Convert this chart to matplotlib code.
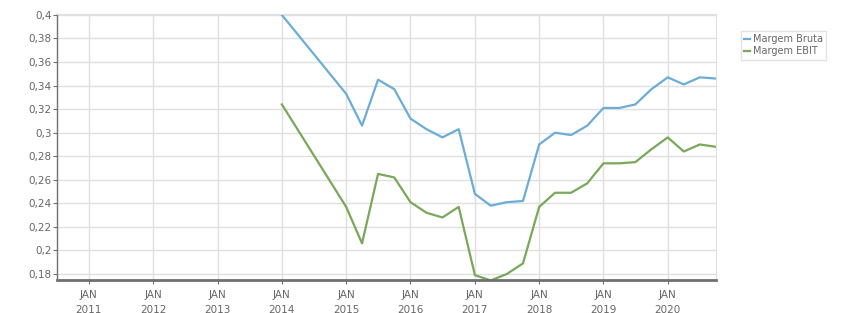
import matplotlib
matplotlib.use("Agg")
import matplotlib.pyplot as plt
import numpy as np
from datetime import datetime

# quarterly dates (2014 only has the January value)
dates = ['2014-01', '2015-01', '2015-04', '2015-07', '2015-10',
         '2016-01', '2016-04', '2016-07', '2016-10',
         '2017-01', '2017-04', '2017-07', '2017-10',
         '2018-01', '2018-04', '2018-07', '2018-10',
         '2019-01', '2019-04', '2019-07', '2019-10',
         '2020-01', '2020-04', '2020-07', '2020-10']

margem_bruta = [0.400, 0.333, 0.306, 0.345, 0.337,
                0.312, 0.303, 0.296, 0.303,
                0.248, 0.238, 0.241, 0.242,
                0.290, 0.300, 0.298, 0.306,
                0.321, 0.321, 0.324, 0.337,
                0.347, 0.341, 0.347, 0.346]

margem_ebit = [0.324, 0.237, 0.206, 0.265, 0.262,
               0.241, 0.232, 0.228, 0.237,
               0.179, 0.1745, 0.180, 0.189,
               0.237, 0.249, 0.249, 0.257,
               0.274, 0.274, 0.275, 0.286,
               0.296, 0.284, 0.290, 0.288]

yticks = [0.18, 0.2, 0.22, 0.24, 0.26, 0.28, 0.3, 0.32, 0.34, 0.36, 0.38, 0.4]
years = list(range(2011, 2021))

x = [datetime.strptime(d, '%Y-%m') for d in dates]

fig = plt.figure(figsize=(8.51, 3.13), dpi=100)
ax = fig.add_axes([57/851, 1-280/313, (716-57)/851, (280-14)/313])

ax.plot(x, margem_bruta, color='#6badd6', lw=1.6, label='Margem Bruta')
ax.plot(x, margem_ebit, color='#79a85a', lw=1.6, label='Margem EBIT')

ax.set_xlim(datetime(2010, 7, 4), datetime(2020, 10, 1))
ax.set_ylim(0.1749, 0.4008)

ax.set_yticks(yticks)
ax.set_yticklabels([('%g' % v).replace('.', ',') for v in yticks])
ax.set_xticks([datetime(y, 1, 1) for y in years])
ax.set_xticklabels(['JAN\n%d' % y for y in years], linespacing=1.6)

ax.grid(True, color='#e0e0e0', lw=1)
ax.set_axisbelow(True)

for s in ['top', 'right']:
    ax.spines[s].set_color('#e0e0e0')
ax.spines['left'].set_color('#707070')
ax.spines['left'].set_linewidth(1)
ax.spines['bottom'].set_color('#707070')
ax.spines['bottom'].set_linewidth(2)

ax.tick_params(axis='both', colors='#707070', labelcolor='#666666', labelsize=7.5, length=3)
ax.tick_params(axis='y', pad=1)
ax.tick_params(axis='x', pad=4)

fig.legend(loc='upper left', bbox_to_anchor=(736/851, 1-26/313), fontsize=7,
           handlelength=0.6, handletextpad=0.3, labelspacing=0.2,
           frameon=True, fancybox=False, edgecolor='#dddddd',
           borderpad=0.35, labelcolor='#666666')

fig.savefig('out.png', dpi=100)
